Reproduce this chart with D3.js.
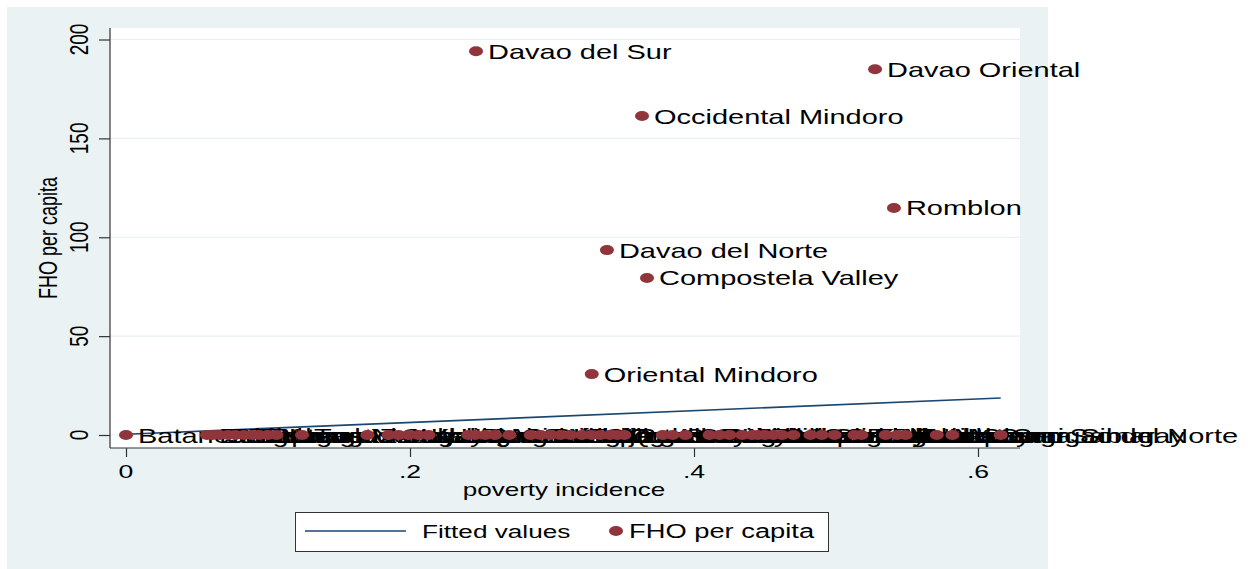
<!DOCTYPE html>
<html>
<head>
<meta charset="utf-8">
<script src="https://cdn.jsdelivr.net/npm/d3@7"></script>
<style>
  body { margin: 0; background: #fff; }
  text { font-family: "Liberation Sans", Arial, sans-serif; fill: #000; }
</style>
</head>
<body>
<script>
// provinces with a visible value
var bigNames = ["Davao del Sur", "Davao Oriental", "Occidental Mindoro", "Romblon",
                "Davao del Norte", "Compostela Valley", "Oriental Mindoro", "Batanes"];
var bigPoverty = [0.2465, 0.5275, 0.3634, 0.5408, 0.3387, 0.3669, 0.328, 0];
var bigFho = [194.1, 185.0, 161.3, 114.8, 93.5, 79.4, 30.8, 0];

// provinces sitting on zero
var zeroNames = ["Bulacan", "Cavite", "Pampanga", "Laguna", "Rizal", "Bataan", "Benguet",
    "Batangas", "Nueva Vizcaya", "Ilocos Norte", "Tarlac", "Zambales", "Cagayan", "Isabela",
    "La Union", "Kalinga", "Ilocos Sur", "Pangasinan", "Quirino", "Nueva Ecija", "Aurora",
    "Cebu", "South Cotabato", "Bohol", "Aklan", "Ifugao", "Capiz", "Iloilo", "Guimaras",
    "Negros Oriental", "Negros Occidental", "Quezon", "Palawan", "Albay", "Sorsogon",
    "Camarines Sur", "Bukidnon", "Misamis Oriental", "Leyte", "Southern Leyte",
    "Mountain Province", "Biliran", "Antique", "Sultan Kudarat", "Lanao del Norte",
    "Camarines Norte", "Catanduanes", "Sarangani", "Agusan del Sur", "Basilan",
    "Eastern Samar", "Abra", "Masbate", "Zamboanga Sibugay", "Northern Samar", "Apayao",
    "Surigao del Norte"];
var zeroPoverty = [0.057, 0.061, 0.066, 0.072, 0.077, 0.083, 0.089, 0.094, 0.100, 0.106,
    0.124, 0.170, 0.185, 0.192, 0.199, 0.206, 0.213, 0.241, 0.246, 0.253, 0.260, 0.270,
    0.285, 0.292, 0.299, 0.306, 0.313, 0.321, 0.328, 0.334, 0.341, 0.346, 0.351, 0.378,
    0.385, 0.394, 0.411, 0.418, 0.425, 0.434, 0.441, 0.445, 0.450, 0.456, 0.462, 0.470,
    0.482, 0.490, 0.499, 0.513, 0.518, 0.535, 0.543, 0.549, 0.571, 0.582, 0.616];

// fitted line end points
var fitX = [0, 0.616];
var fitY = [0.4, 18.7];

var xTicks = [0, 0.2, 0.4, 0.6];
var yTicks = [0, 50, 100, 150, 200];

var W = 1257, H = 569;
var plot = {left: 110, top: 28, right: 1020, bottom: 448};
var sx = 1.42;   // the whole graph is stretched sideways

var x = d3.scaleLinear()
    .domain([-0.01127, 0.62958])
    .range([plot.left, plot.right]);

var y = d3.scaleLinear()
    .domain([-6.57, 205.82])
    .range([plot.bottom, plot.top]);

var svg = d3.select("body").append("svg")
    .attr("width", W)
    .attr("height", H);

// outer background and white plot region
svg.append("rect")
    .attr("x", 7).attr("y", 7)
    .attr("width", 1041).attr("height", H - 7)
    .attr("fill", "#eaf2f3");

svg.append("rect")
    .attr("x", plot.left).attr("y", plot.top)
    .attr("width", plot.right - plot.left).attr("height", plot.bottom - plot.top)
    .attr("fill", "#fff");

function label(g, text, px, py, size, anchor, rot, stretch) {
    return g.append("text")
        .attr("transform", "translate(" + px + "," + py + ") scale(" + (stretch || sx) + ",1)" + (rot ? " rotate(" + rot + ")" : ""))
        .attr("text-anchor", anchor || "start")
        .style("font-size", size + "px")
        .text(text);
}

// grid lines
svg.append("g")
    .selectAll("line")
    .data(yTicks)
    .enter().append("line")
        .attr("x1", plot.left).attr("x2", plot.right)
        .attr("y1", function(d) { return y(d); })
        .attr("y2", function(d) { return y(d); })
        .attr("stroke", "#e6eff1")
        .attr("stroke-width", 1.2);

// axes, d3 draws ticks and lines, labels are put on by hand for the stretch
var yAxis = d3.axisLeft(y).tickValues(yTicks).tickSize(11).tickFormat("");
var xAxis = d3.axisBottom(x).tickValues(xTicks).tickSize(9).tickFormat("");

var gy = svg.append("g")
    .attr("transform", "translate(" + plot.left + ",0)")
    .call(yAxis);
gy.select(".domain").attr("d", "M0," + plot.top + "V" + plot.bottom);

var gx = svg.append("g")
    .attr("transform", "translate(0," + plot.bottom + ")")
    .call(xAxis);
gx.select(".domain").attr("d", "M" + plot.left + ",0H" + plot.right);

svg.selectAll(".domain, .tick line").attr("stroke", "#333").attr("stroke-width", 1.2);

var fmt = function(d) { return d === 0 ? "0" : d3.format(".1f")(d).replace(/^0/, ""); };

yTicks.forEach(function(d) {
    label(svg, d, 88, y(d), 19, "middle", -90, 1.4);
});
xTicks.forEach(function(d) {
    label(svg, fmt(d), x(d), 478, 19, "middle", 0, 1.4);
});

label(svg, "FHO per capita", 57, (plot.top + plot.bottom) / 2, 18, "middle", -90, 1.4);
label(svg, "poverty incidence", 564, 496, 18.6, "middle", 0, 1.4);

// fitted values
svg.append("path")
    .datum(d3.zip(fitX, fitY))
    .attr("fill", "none")
    .attr("stroke", "#1a476f")
    .attr("stroke-width", 1.6)
    .attr("d", d3.line()
        .x(function(d) { return x(d[0]); })
        .y(function(d) { return y(d[1]); }));

// points, labels first so markers sit on top
var names = bigNames.concat(zeroNames);
var px = bigPoverty.concat(zeroPoverty);
var py = bigFho.concat(zeroNames.map(function() { return 0; }));

var gl = svg.append("g");
names.forEach(function(n, i) {
    label(gl, n, x(px[i]) + 12, y(py[i]) + 7.5, 20.4, "start");
});

svg.append("g")
    .selectAll("ellipse")
    .data(d3.range(names.length))
    .enter().append("ellipse")
        .attr("cx", function(i) { return x(px[i]); })
        .attr("cy", function(i) { return y(py[i]); })
        .attr("rx", 7)
        .attr("ry", 5)
        .attr("fill", "#90353b");

// legend
var lg = svg.append("g");
lg.append("rect")
    .attr("x", 295.5).attr("y", 512.5)
    .attr("width", 533).attr("height", 39)
    .attr("fill", "#fff")
    .attr("stroke", "#333")
    .attr("stroke-width", 1);
lg.append("line")
    .attr("x1", 305).attr("x2", 406)
    .attr("y1", 531).attr("y2", 531)
    .attr("stroke", "#1a476f")
    .attr("stroke-width", 1.6);
label(lg, "Fitted values", 422, 538, 18.7, "start", 0, 1.4);
lg.append("ellipse")
    .attr("cx", 616).attr("cy", 531)
    .attr("rx", 7).attr("ry", 5)
    .attr("fill", "#90353b");
label(lg, "FHO per capita", 629, 538, 19.5, "start", 0, 1.4);
</script>
</body>
</html>
